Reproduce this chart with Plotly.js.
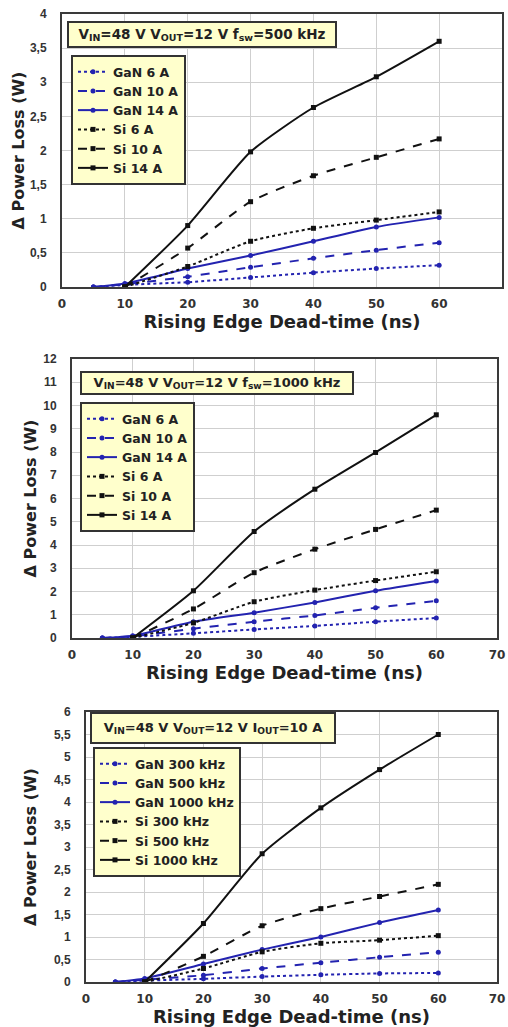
<!DOCTYPE html>
<html>
<head>
<meta charset="utf-8">
<script src="https://cdn.plot.ly/plotly-3.0.1.min.js"></script>
<style>html,body{margin:0;padding:0;background:#fff;}#chart{width:508px;height:1027px;}</style>
</head>
<body>
<div id="chart"></div>
<script>
// Dead-time values (ns)
const deadTimeGaN = [5, 10, 20, 30, 40, 50, 60];
const deadTimeSi = [10, 20, 30, 40, 50, 60];

// Panel 1: VIN=48 V VOUT=12 V fsw=500 kHz
const p1Names = ["GaN 6 A", "GaN 10 A", "GaN 14 A", "Si 6 A", "Si 10 A", "Si 14 A"];
const p1GaN6 = [0, 0.03, 0.07, 0.14, 0.21, 0.27, 0.32];
const p1GaN10 = [0, 0.04, 0.15, 0.29, 0.42, 0.54, 0.65];
const p1GaN14 = [0, 0.05, 0.27, 0.46, 0.67, 0.88, 1.02];
const p1Si6 = [0, 0.3, 0.67, 0.86, 0.98, 1.1];
const p1Si10 = [0, 0.57, 1.25, 1.63, 1.9, 2.17];
const p1Si14 = [0, 0.9, 1.98, 2.63, 3.08, 3.6];

// Panel 2: VIN=48 V VOUT=12 V fsw=1000 kHz
const p2Names = ["GaN 6 A", "GaN 10 A", "GaN 14 A", "Si 6 A", "Si 10 A", "Si 14 A"];
const p2GaN6 = [0, 0.05, 0.2, 0.37, 0.52, 0.7, 0.86];
const p2GaN10 = [0, 0.07, 0.4, 0.7, 0.97, 1.3, 1.6];
const p2GaN14 = [0, 0.1, 0.7, 1.09, 1.53, 2.03, 2.45];
const p2Si6 = [0, 0.65, 1.56, 2.06, 2.47, 2.85];
const p2Si10 = [0, 1.25, 2.81, 3.82, 4.67, 5.5];
const p2Si14 = [0, 2.03, 4.58, 6.4, 7.98, 9.6];

// Panel 3: VIN=48 V VOUT=12 V IOUT=10 A
const p3Names = ["GaN 300 kHz", "GaN 500 kHz", "GaN 1000 kHz", "Si 300 kHz", "Si 500 kHz", "Si 1000 kHz"];
const p3GaN300 = [0, 0.03, 0.07, 0.12, 0.16, 0.19, 0.2];
const p3GaN500 = [0, 0.05, 0.15, 0.3, 0.43, 0.55, 0.66];
const p3GaN1000 = [0, 0.08, 0.4, 0.72, 1.0, 1.32, 1.6];
const p3Si300 = [0, 0.3, 0.67, 0.86, 0.93, 1.03];
const p3Si500 = [0, 0.57, 1.25, 1.63, 1.9, 2.17];
const p3Si1000 = [0, 1.3, 2.85, 3.87, 4.72, 5.5];

const panelTitles = [
  "V<sub>IN</sub>=48 V V<sub>OUT</sub>=12 V f<sub>sw</sub>=500 kHz",
  "V<sub>IN</sub>=48 V V<sub>OUT</sub>=12 V f<sub>sw</sub>=1000 kHz",
  "V<sub>IN</sub>=48 V V<sub>OUT</sub>=12 V I<sub>OUT</sub>=10 A"
];
const xTitle = "Rising Edge Dead-time (ns)";
const yTitle = "Δ Power Loss (W)";

const BLUE = "#2323b0";
const BLACK = "#111111";
const FONT = "Liberation Sans, Arial, sans-serif";
const WIDE = "DejaVu Sans, Liberation Sans, sans-serif";
const dashes = ["dot", "dash", "solid"];

function panelTraces(names, gan, si, axN) {
  const xa = axN === 1 ? "x" : "x" + axN;
  const ya = axN === 1 ? "y" : "y" + axN;
  const lg = axN === 1 ? "legend" : "legend" + axN;
  const out = [];
  gan.forEach((ys, i) => out.push({
    type: "scatter", mode: "lines+markers", name: names[i], x: deadTimeGaN, y: ys,
    xaxis: xa, yaxis: ya, legend: lg,
    line: {color: BLUE, width: 2, dash: dashes[i], shape: "spline", smoothing: 0.6},
    marker: {color: BLUE, size: 5, symbol: "circle"}
  }));
  si.forEach((ys, i) => out.push({
    type: "scatter", mode: "lines+markers", name: names[i + 3], x: deadTimeSi, y: ys,
    xaxis: xa, yaxis: ya, legend: lg,
    line: {color: BLACK, width: 2, dash: dashes[i], shape: "spline", smoothing: 0.6},
    marker: {color: BLACK, size: 5, symbol: "square"}
  }));
  return out;
}

const data = [
  ...panelTraces(p1Names, [p1GaN6, p1GaN10, p1GaN14], [p1Si6, p1Si10, p1Si14], 1),
  ...panelTraces(p2Names, [p2GaN6, p2GaN10, p2GaN14], [p2Si6, p2Si10, p2Si14], 2),
  ...panelTraces(p3Names, [p3GaN300, p3GaN500, p3GaN1000], [p3Si300, p3Si500, p3Si1000], 3)
];

const W = 508, H = 1027;
const px = v => v / W;
const py = v => 1 - v / H;

function xAxis(l, r, anchor) {
  return {
    domain: [px(l), px(r)], anchor: anchor, range: [0, 70], dtick: 10, tick0: 0,
    showgrid: true, gridcolor: "#cfcfcf", gridwidth: 1, zeroline: false,
    showline: true, mirror: true, linecolor: "#3a3a3a", linewidth: 2,
    ticks: "", ticklabelstandoff: 5,
    tickfont: {family: WIDE, size: 12, color: "#333", weight: "bold"},
    title: {text: xTitle, font: {family: WIDE, size: 18, color: "#222", weight: "bold"}, standoff: 3}
  };
}
function yAxis(top, bottom, maxV, dt, anchor, standoff) {
  return {
    domain: [py(bottom), py(top)], anchor: anchor, range: [0, maxV], dtick: dt, tick0: 0,
    showgrid: true, gridcolor: "#cfcfcf", gridwidth: 1, zeroline: false,
    showline: true, mirror: true, linecolor: "#3a3a3a", linewidth: 2,
    ticks: "", ticklabelstandoff: 11,
    tickfont: {family: FONT, size: 12, color: "#333", weight: "bold"},
    title: {text: yTitle, font: {family: WIDE, size: 16, color: "#222", weight: "bold"}, standoff: standoff}
  };
}

function legendAt(l, t) {
  return {
    x: px(l), y: py(t), xanchor: "left", yanchor: "top",
    bgcolor: "#ffffcc", bordercolor: "#333", borderwidth: 2,
    font: {family: WIDE, size: 12.5, color: "#222", weight: "bold"},
    itemwidth: 30, tracegroupgap: 0, traceorder: "normal"
  };
}
function titleAnn(text, l, t, w, h, size) {
  return {
    text: text, xref: "paper", yref: "paper", x: px(l), y: py(t),
    xanchor: "left", yanchor: "top", showarrow: false, align: "center",
    width: w, height: h,
    bgcolor: "#ffffcc", bordercolor: "#333", borderwidth: 2, borderpad: 2,
    font: {family: WIDE, size: size, color: "#222", weight: "bold"}
  };
}

const layout = {
  width: W, height: H,
  margin: {l: 0, r: 0, t: 0, b: 0},
  paper_bgcolor: "#fff", plot_bgcolor: "#fff",
  separators: ", ",
  showlegend: true,
  xaxis: xAxis(62, 502, "y"),
  yaxis: yAxis(14, 287, 4, 0.5, "x", 1),
  xaxis2: xAxis(72, 497, "y2"),
  yaxis2: yAxis(359, 638, 12, 1, "x2", 3),
  xaxis3: xAxis(86, 497, "y3"),
  yaxis3: yAxis(712, 982, 6, 0.5, "x3", 13),
  legend: legendAt(71, 55),
  legend2: legendAt(80, 402),
  legend3: legendAt(93, 747),
  annotations: [
    titleAnn(panelTitles[0], 67, 21, 262, 19, 13.5),
    titleAnn(panelTitles[1], 80, 371, 266, 16, 13),
    titleAnn(panelTitles[2], 90, 712, 238, 24, 13)
  ]
};

Plotly.newPlot("chart", data, layout, {staticPlot: true, displayModeBar: false});
</script>
</body>
</html>
